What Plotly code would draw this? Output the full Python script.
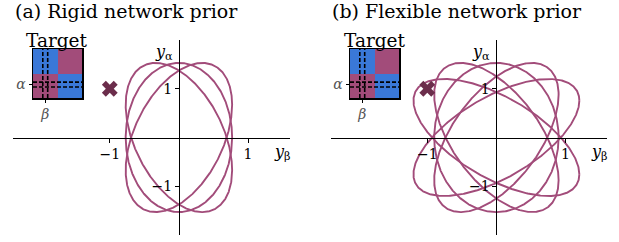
import numpy as np
import plotly.graph_objects as go

W, H = 619, 242

# ---------------- data ----------------
TITLES = ["(a) Rigid network prior", "(b) Flexible network prior"]
TICKS = [-1, 1]
XRANGE = [-2.4, 1.6]
YRANGE = [-2.0, 2.0]
TARGET_X = [-1.0]
TARGET_Y = [1.0]

# orbits: y_beta = AMP_B*cos(t), y_alpha = AMP_A*cos(t + PHASE)
A_AMP_B = [0.77, 0.77, 0.77]
A_AMP_A = [1.53, 1.53, 1.53]
A_PHASE = [90, 64, 116]          # degrees

B_AMP_B = [1.2, 1.2, 0.9, 0.9, 0.9]
B_AMP_A = [1.2, 1.2, 1.53, 1.53, 1.53]
B_PHASE = [129, 51, 125, 55, 90]  # degrees

# target matrix inset (row 0 = bottom)
TARGET_Z = [[1, 0], [0, 1]]
BETA_POS = 0.0
ALPHA_POS = 0.05
BETA_LINES = [-0.1, 0.1]
ALPHA_LINES = [-0.05, 0.15]

BLUE = "#3a78d8"
MAUVE = "#a24c7a"
DARK = "#6b2d4b"
SERIF = "DejaVu Serif"


def orbit(amp_b, amp_a, phase_deg, n=600):
    t = np.linspace(0, 2 * np.pi, n)
    ph = np.deg2rad(phase_deg)
    return amp_b * np.cos(t), amp_a * np.cos(t + ph)


fig = go.Figure()

panels = [
    dict(x0=13, x1=289.5, inset=(33, 82), title_x=13),
    dict(x0=330.5, x1=607, inset=(350, 399), title_x=330),
]
y_top, y_bot = 40, 235
inset_y = (49, 98)

params = [(A_AMP_B, A_AMP_A, A_PHASE), (B_AMP_B, B_AMP_A, B_PHASE)]

for i, p in enumerate(panels):
    xa = "x" if i == 0 else "x2"
    ya = "y" if i == 0 else "y2"
    bs, as_, phs = params[i]
    for ab, aa, ph in zip(bs, as_, phs):
        ex, ey = orbit(ab, aa, ph)
        fig.add_trace(go.Scatter(x=ex, y=ey, mode="lines", xaxis=xa, yaxis=ya,
                                 line=dict(color=MAUVE, width=1.9),
                                 hoverinfo="skip", showlegend=False))
    fig.add_trace(go.Scatter(x=TARGET_X, y=TARGET_Y, mode="markers", xaxis=xa, yaxis=ya,
                             marker=dict(symbol="x", size=14, color=DARK,
                                         line=dict(width=0)),
                             hoverinfo="skip", showlegend=False))

    ixa = "x3" if i == 0 else "x4"
    iya = "y3" if i == 0 else "y4"
    fig.add_trace(go.Heatmap(z=TARGET_Z, x=[0, 1], y=[0, 1], xaxis=ixa, yaxis=iya,
                             colorscale=[[0, BLUE], [1, MAUVE]], zmin=0, zmax=1,
                             showscale=False, hoverinfo="skip"))
    for bx in BETA_LINES:
        fig.add_trace(go.Scatter(x=[bx, bx], y=[-0.5, 1.5], mode="lines", xaxis=ixa, yaxis=iya,
                                 line=dict(color="black", width=1.6, dash="4px,2px"),
                                 hoverinfo="skip", showlegend=False))
    for ay in ALPHA_LINES:
        fig.add_trace(go.Scatter(x=[-0.5, 1.5], y=[ay, ay], mode="lines", xaxis=ixa, yaxis=iya,
                                 line=dict(color="black", width=1.6, dash="4px,2px"),
                                 hoverinfo="skip", showlegend=False))

layout = dict(
    width=W, height=H,
    margin=dict(l=0, r=0, t=0, b=0),
    paper_bgcolor="white", plot_bgcolor="rgba(0,0,0,0)",
    showlegend=False,
)

annotations = []
for i, p in enumerate(panels):
    sfx = "" if i == 0 else "2"
    dom_x = [p["x0"] / W, p["x1"] / W]
    dom_y = [1 - y_bot / H, 1 - y_top / H]
    zero_px = dom_x[0] + (0 - XRANGE[0]) / (XRANGE[1] - XRANGE[0]) * (dom_x[1] - dom_x[0])
    zero_py = dom_y[0] + (0 - YRANGE[0]) / (YRANGE[1] - YRANGE[0]) * (dom_y[1] - dom_y[0])
    common = dict(showgrid=False, zeroline=False, showline=True, linecolor="black",
                  linewidth=1, ticks="outside", ticklen=4, tickwidth=1, tickcolor="black",
                  tickvals=TICKS, tickfont=dict(family=SERIF, size=14, color="black"),
                  anchor="free", fixedrange=True)
    layout["xaxis" + sfx] = dict(common, domain=dom_x, range=XRANGE, position=zero_py)
    layout["yaxis" + sfx] = dict(common, domain=dom_y, range=YRANGE, position=zero_px)

    isfx = "3" if i == 0 else "4"
    ix0, ix1 = p["inset"]
    layout["xaxis" + isfx] = dict(domain=[ix0 / W, ix1 / W], range=[-0.5, 1.5], anchor="y" + isfx,
                                 showgrid=False, zeroline=False, showline=True, mirror=True,
                                 linecolor="black", linewidth=1.5, ticks="outside", ticklen=3,
                                 tickcolor="black", tickvals=[BETA_POS],
                                 ticktext=["<i>β</i>"],
                                 tickfont=dict(family=SERIF, size=14, color="#555"),
                                 fixedrange=True)
    layout["yaxis" + isfx] = dict(domain=[1 - inset_y[1] / H, 1 - inset_y[0] / H], range=[-0.5, 1.5],
                                 anchor="x" + isfx,
                                 showgrid=False, zeroline=False, showline=True, mirror=True,
                                 linecolor="black", linewidth=1.5, ticks="outside", ticklen=3,
                                 tickcolor="black", tickvals=[ALPHA_POS],
                                 ticktext=["<i>α</i>"],
                                 tickfont=dict(family=SERIF, size=14, color="#555"),
                                 fixedrange=True)

    annotations.append(dict(text=TITLES[i], xref="paper", yref="paper", x=p["title_x"] / W, y=1.0,
                            xanchor="left", yanchor="top", showarrow=False, yshift=2,
                            font=dict(family=SERIF, size=19, color="black")))
    annotations.append(dict(text="Target", xref="paper", yref="paper",
                            x=(ix0 + ix1) / 2 / W, y=1 - 40 / H,
                            xanchor="center", yanchor="middle", showarrow=False,
                            font=dict(family=SERIF, size=18.5, color="black")))
    xa = "x" + sfx
    ya = "y" + sfx
    annotations.append(dict(text="<i>y</i><sub>α</sub>", xref=xa, yref=ya, x=0, y=YRANGE[1],
                            xanchor="right", yanchor="top", xshift=-4, showarrow=False,
                            font=dict(family=SERIF, size=16, color="black")))
    annotations.append(dict(text="<i>y</i><sub>β</sub>", xref=xa, yref=ya, x=XRANGE[1], y=0,
                            xanchor="right", yanchor="top", xshift=3, yshift=-2, showarrow=False,
                            font=dict(family=SERIF, size=16, color="black")))

layout["annotations"] = annotations
fig.update_layout(**layout)
fig.write_html("out.html", config={"displayModeBar": False, "staticPlot": True},
               post_script="document.body.style.margin='0px';document.body.style.overflow='hidden';")
